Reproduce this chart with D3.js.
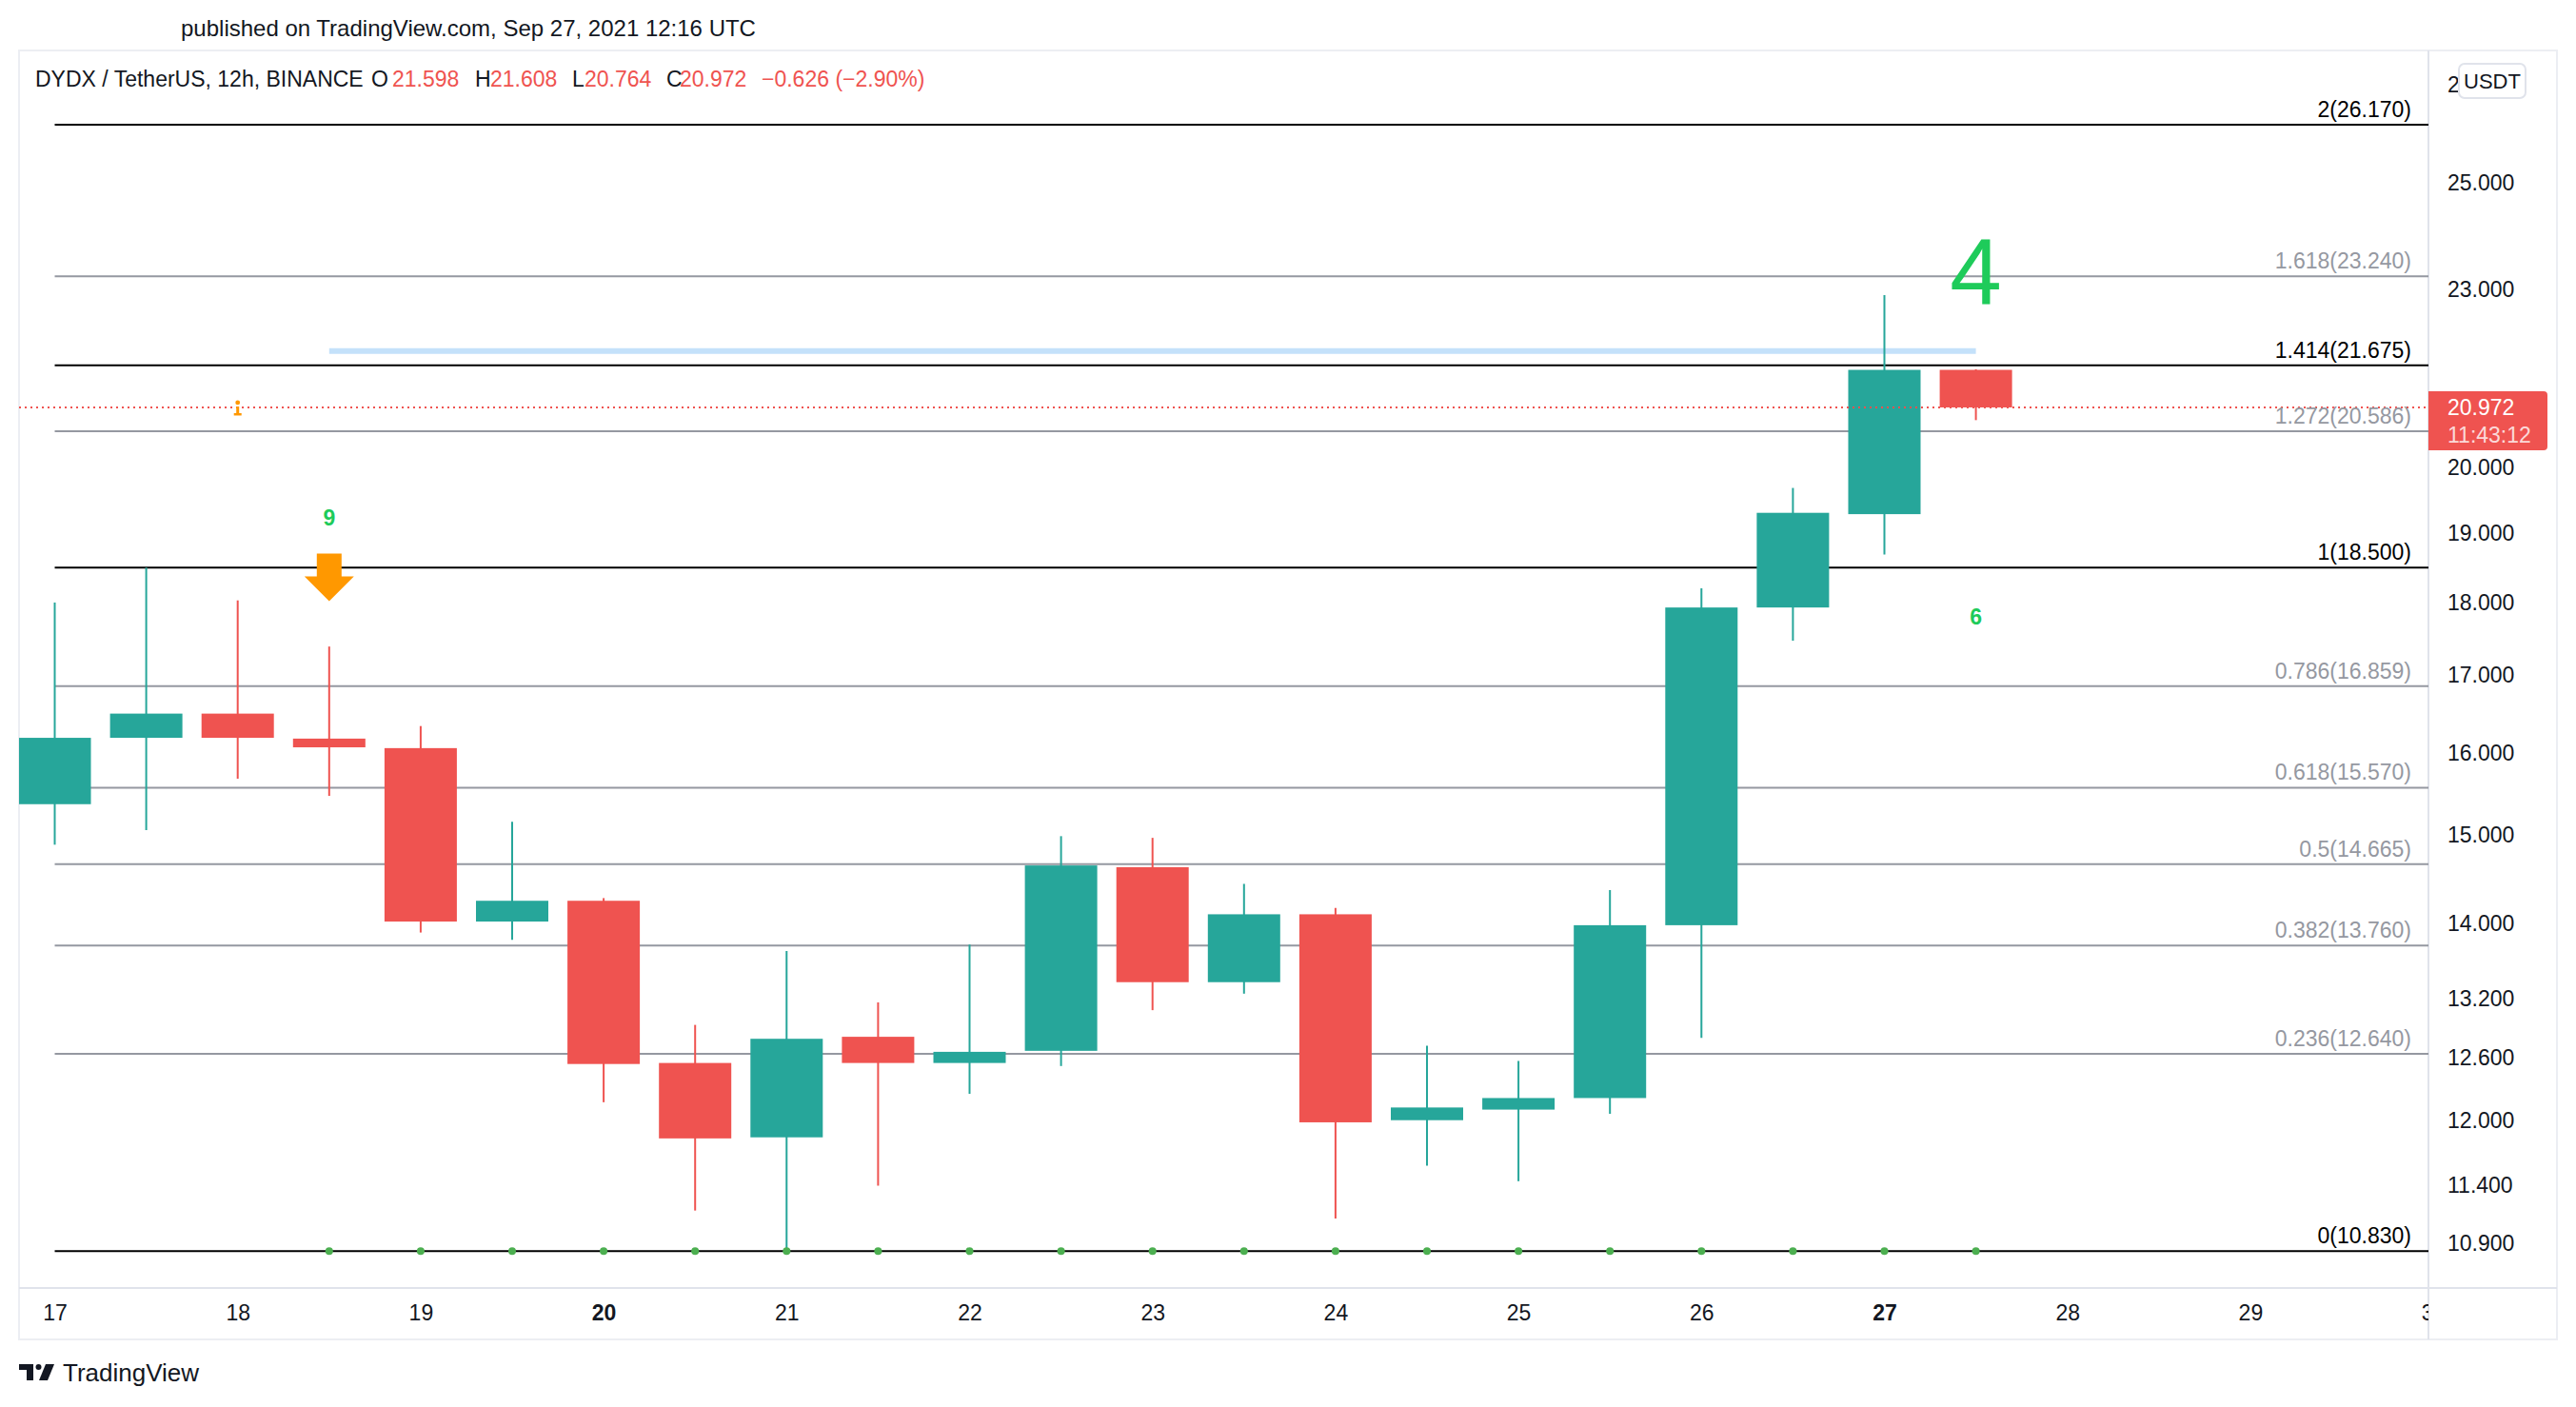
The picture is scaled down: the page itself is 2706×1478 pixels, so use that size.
<!DOCTYPE html>
<html>
<head>
<meta charset="utf-8">
<script src="https://cdn.jsdelivr.net/npm/d3@7"></script>
<style>
  body { margin: 0; background: #fff; }
  svg text { font-family: "Liberation Sans", Arial, sans-serif; }
</style>
</head>
<body>
<script>
// 12h candles, DYDX/USDT
const candleTimes = [
  "2021-09-17T00:00Z", "2021-09-17T12:00Z", "2021-09-18T00:00Z", "2021-09-18T12:00Z",
  "2021-09-19T00:00Z", "2021-09-19T12:00Z", "2021-09-20T00:00Z", "2021-09-20T12:00Z",
  "2021-09-21T00:00Z", "2021-09-21T12:00Z", "2021-09-22T00:00Z", "2021-09-22T12:00Z",
  "2021-09-23T00:00Z", "2021-09-23T12:00Z", "2021-09-24T00:00Z", "2021-09-24T12:00Z",
  "2021-09-25T00:00Z", "2021-09-25T12:00Z", "2021-09-26T00:00Z", "2021-09-26T12:00Z",
  "2021-09-27T00:00Z", "2021-09-27T12:00Z"
];
const opens  = [15.37, 16.19, 16.50, 16.18, 16.06, 14.02, 14.25, 12.55, 11.84, 12.81, 12.55, 12.67, 14.63, 13.37, 14.10, 12.00, 12.10, 12.21, 13.98, 17.93, 19.29, 21.598];
const highs  = [18.00, 18.50, 18.03, 17.39, 16.34, 15.16, 14.28, 12.93, 13.70, 13.16, 13.77, 14.99, 14.97, 14.44, 14.17, 12.72, 12.57, 14.37, 18.20, 19.69, 22.90, 21.608];
const lows   = [14.89, 15.06, 15.68, 15.47, 13.90, 13.82, 12.17, 11.18, 10.83, 11.40, 12.25, 12.52, 13.08, 13.25, 11.11, 11.58, 11.44, 12.06, 12.80, 17.47, 18.69, 20.764];
const closes = [16.19, 16.50, 16.19, 16.07, 14.02, 14.25, 12.54, 11.83, 12.79, 12.55, 12.66, 14.65, 13.37, 14.10, 11.98, 12.12, 12.21, 13.98, 17.93, 19.31, 21.598, 20.972];

// fib extension
const fibLevels = [0, 0.236, 0.382, 0.5, 0.618, 0.786, 1, 1.272, 1.414, 1.618, 2];
const fibPrices = [10.830, 12.640, 13.760, 14.665, 15.570, 16.859, 18.500, 20.586, 21.675, 23.240, 26.170];
const fibMain   = [0, 1, 1.414, 2];

const priceTicks = [27, 25, 23, 20, 19, 18, 17, 16, 15, 14, 13.2, 12.6, 12, 11.4, 10.9];
const dayTicks = d3.range(17, 31).map(d => new Date(Date.UTC(2021, 8, d)));

// markers
const resistancePrice = 21.92;
const dotFrom = 3;
const markTimes  = ["2021-09-18T12:00Z", "2021-09-27T12:00Z", "2021-09-27T12:00Z"];
const markPrices = [19.24, 17.80, 22.75];
const markTexts  = ["9", "6", "4"];
const markSizes  = [23, 23, 98];
const arrowTime = "2021-09-18T12:00Z", arrowPrice = 18.02;
const infoTime = "2021-09-18T00:00Z";

const W = 2706, H = 1478;
const paneL = 20, paneT = 53, paneR = 2551, paneB = 1353, frameR = 2686, frameB = 1407;
const up = "#26a69a", down = "#ef5350", ink = "#131722", grey = "#9598a1";

const svg = d3.select("body").append("svg").attr("width", W).attr("height", H);

const x = d3.scaleUtc()
    .domain([new Date("2021-09-17T00:00Z"), new Date("2021-09-30T00:00Z")])
    .range([57.5, 57.5 + 26 * 96.1]);
const y = d3.scaleLog().domain([10.83, 26.17]).range([1314.3, 131]);

const bars = candleTimes.map((t, i) => ({t: new Date(t), o: opens[i], h: highs[i], l: lows[i], c: closes[i]}));
const last = bars[bars.length - 1];

const defs = svg.append("defs");
defs.append("clipPath").attr("id", "pane").append("rect")
    .attr("x", paneL).attr("y", paneT).attr("width", paneR - paneL).attr("height", paneB - paneT);
defs.append("clipPath").attr("id", "timeaxis").append("rect")
    .attr("x", paneL).attr("y", paneB).attr("width", paneR - paneL).attr("height", frameB - paneB);
defs.append("clipPath").attr("id", "priceaxis").append("rect")
    .attr("x", paneR).attr("y", 104).attr("width", frameR - paneR).attr("height", paneB - 104);

// header
svg.append("text").attr("x", 190).attr("y", 38).attr("fill", ink).style("font-size", "24px")
    .text("published on TradingView.com, Sep 27, 2021 12:16 UTC");

// frame
svg.append("rect").attr("x", paneL).attr("y", paneT).attr("width", frameR - paneL).attr("height", frameB - paneT)
    .attr("fill", "none").attr("stroke", "#eceef3").attr("stroke-width", 2);
svg.append("line").attr("x1", paneR).attr("x2", paneR).attr("y1", paneT).attr("y2", frameB)
    .attr("stroke", "#e0e3eb").attr("stroke-width", 2);
svg.append("line").attr("x1", paneL).attr("x2", frameR).attr("y1", paneB).attr("y2", paneB)
    .attr("stroke", "#e0e3eb").attr("stroke-width", 2);

const pane = svg.append("g").attr("clip-path", "url(#pane)");

// fib lines
const fibs = fibLevels.map((lv, i) => ({lv: lv, p: fibPrices[i], main: fibMain.includes(lv)}));
const x0 = x(bars[0].t);
pane.append("g").selectAll("line").data(fibs).join("line")
    .attr("x1", x0).attr("x2", paneR)
    .attr("y1", d => y(d.p)).attr("y2", d => y(d.p))
    .attr("stroke", d => d.main ? "#000" : grey)
    .attr("stroke-width", 2);

// resistance line
pane.append("line")
    .attr("x1", x(bars[dotFrom].t)).attr("x2", x(last.t))
    .attr("y1", y(resistancePrice)).attr("y2", y(resistancePrice))
    .attr("stroke", "#c4e1fa").attr("stroke-width", 6);

// candles
pane.append("g").selectAll("line").data(bars).join("line")
    .attr("x1", d => x(d.t)).attr("x2", d => x(d.t))
    .attr("y1", d => y(d.h)).attr("y2", d => y(d.l))
    .attr("stroke", d => d.c >= d.o ? up : down).attr("stroke-width", 2);
pane.append("g").selectAll("rect").data(bars).join("rect")
    .attr("x", d => x(d.t) - 38).attr("width", 76)
    .attr("y", d => y(Math.max(d.o, d.c)))
    .attr("height", d => Math.max(1, Math.abs(y(d.o) - y(d.c))))
    .attr("fill", d => d.c >= d.o ? up : down);

// dots on the 0 level
pane.append("g").selectAll("circle").data(bars.slice(dotFrom)).join("circle")
    .attr("cx", d => x(d.t)).attr("cy", y(fibPrices[0])).attr("r", 4).attr("fill", "#4caf50");

// last price line
pane.append("line").attr("x1", paneL).attr("x2", paneR)
    .attr("y1", y(last.c)).attr("y2", y(last.c))
    .attr("stroke", down).attr("stroke-width", 2).attr("stroke-dasharray", "2,4");

// info marker
const ix = x(new Date(infoTime)), iy = y(last.c);
const info = pane.append("g").attr("fill", "#ff9800");
info.append("circle").attr("cx", ix).attr("cy", iy - 5).attr("r", 2.4);
info.append("rect").attr("x", ix - 1.5).attr("y", iy - 1).attr("width", 3).attr("height", 8);
info.append("rect").attr("x", ix - 4).attr("y", iy + 6).attr("width", 8).attr("height", 2.5);

// sell arrow
const ax = x(new Date(arrowTime)), ay = y(arrowPrice);
pane.append("path")
    .attr("d", `M${ax},${ay} L${ax - 26},${ay - 26} L${ax - 13},${ay - 26} L${ax - 13},${ay - 50} L${ax + 13},${ay - 50} L${ax + 13},${ay - 26} L${ax + 26},${ay - 26} Z`)
    .attr("fill", "#ff9800");

// count labels
pane.append("g").selectAll("text").data(markTexts).join("text")
    .attr("x", (d, i) => x(new Date(markTimes[i])))
    .attr("y", (d, i) => y(markPrices[i]))
    .attr("dy", (d, i) => i < 2 ? "0.36em" : "0")
    .attr("text-anchor", "middle")
    .attr("fill", "#1ecb5a")
    .style("font-size", (d, i) => markSizes[i] + "px")
    .style("font-weight", (d, i) => i < 2 ? "bold" : "normal")
    .text(d => d);

// fib labels
pane.append("g").selectAll("text").data(fibs).join("text")
    .attr("x", 2533).attr("y", d => y(d.p) - 8)
    .attr("text-anchor", "end")
    .attr("fill", d => d.main ? "#000" : grey)
    .style("font-size", "23px")
    .text(d => `${d.lv}(${d.p.toFixed(3)})`);

// legend
const legend = svg.append("text").attr("y", 91).style("font-size", "23px");
const fmt = d3.format(".3f");
const chg = last.c - closes[closes.length - 2];
const legendParts = [
  [37, "DYDX / TetherUS, 12h, BINANCE", ink],
  [390, "O", ink], [412, fmt(last.o), down],
  [499, "H", ink], [515, fmt(last.h), down],
  [601, "L", ink], [614, fmt(last.l), down],
  [700, "C", ink], [714, fmt(last.c), down],
  [800, (chg < 0 ? "\u2212" : "+") + fmt(Math.abs(chg)) + " (" + (chg < 0 ? "\u2212" : "+") + d3.format(".2f")(Math.abs(chg / closes[closes.length - 2] * 100)) + "%)", down]
];
legend.selectAll("tspan").data(legendParts).join("tspan")
    .attr("x", d => d[0]).attr("fill", d => d[2]).text(d => d[1]);

// price axis (top label sits partly under the currency badge)
const yAxis = svg.append("g").attr("transform", `translate(${paneR},0)`)
    .call(d3.axisRight(y).tickValues(priceTicks).tickFormat(fmt).tickSize(0).tickPadding(20));
yAxis.select(".domain").remove();
yAxis.selectAll("text").attr("fill", ink).style("font-size", "23px")
    .style("font-family", '"Liberation Sans", Arial, sans-serif');

// time axis
const xAxis = svg.append("g").attr("clip-path", "url(#timeaxis)")
  .append("g").attr("transform", `translate(0,${paneB})`)
    .call(d3.axisBottom(x).tickValues(dayTicks).tickFormat(d3.utcFormat("%-d")).tickSize(0).tickPadding(18));
xAxis.select(".domain").remove();
xAxis.selectAll("text").attr("fill", ink).style("font-size", "23px")
    .style("font-family", '"Liberation Sans", Arial, sans-serif')
    .style("font-weight", d => d.getUTCDay() === 1 ? "bold" : "normal");

// currency badge
svg.append("rect").attr("x", 2583).attr("y", 67).attr("width", 70).attr("height", 36).attr("rx", 6)
    .attr("fill", "#fff").attr("stroke", "#e0e3eb").attr("stroke-width", 2);
svg.append("text").attr("x", 2618).attr("y", 93).attr("text-anchor", "middle")
    .attr("fill", ink).style("font-size", "22px").text("USDT");

// last price label
const ly = y(last.c);
svg.append("path")
    .attr("d", `M${paneR},${ly - 17} H${2672} a4,4 0 0 1 4,4 V${ly + 41} a4,4 0 0 1 -4,4 H${paneR} Z`)
    .attr("fill", down);
svg.append("text").attr("x", 2571).attr("y", ly).attr("dy", "0.36em")
    .attr("fill", "#fff").style("font-size", "23px").text(fmt(last.c));
svg.append("text").attr("x", 2571).attr("y", ly + 29).attr("dy", "0.36em")
    .attr("fill", "rgba(255,255,255,0.8)").style("font-size", "23px").text("11:43:12");

// logo
const logo = svg.append("g").attr("transform", "translate(20,1433)").attr("fill", ink);
logo.append("path").attr("d", "M0,0 H15 V17 H8 V6 H0 Z");
logo.append("circle").attr("cx", 20.5).attr("cy", 3).attr("r", 3);
logo.append("path").attr("d", "M28,0 H37 L30,17 H21 Z");
svg.append("text").attr("x", 66).attr("y", 1451).attr("fill", ink).style("font-size", "26px").text("TradingView");
</script>
</body>
</html>
